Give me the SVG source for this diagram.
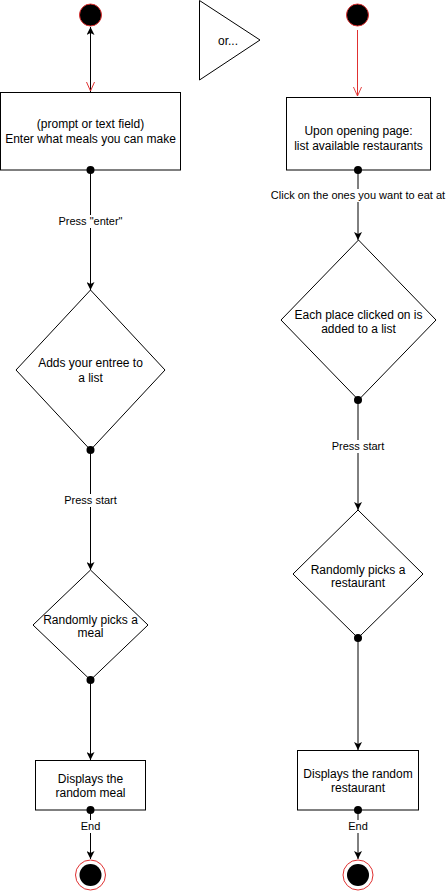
<svg xmlns="http://www.w3.org/2000/svg" width="446" height="891" viewBox="0 0 446 891">
<style>
.node{fill:#fff;stroke:#000;stroke-width:1}
.t{font-family:"Liberation Sans",Arial,sans-serif;font-size:12px;fill:#000;text-anchor:middle}
.lbl{font-family:"Liberation Sans",Arial,sans-serif;font-size:11px;fill:#000;text-anchor:middle}
.edge{stroke:#000;stroke-width:1;fill:none}
.red{stroke:#e03030;stroke-width:1;fill:none}
.start{fill:#000;stroke:#e03030;stroke-width:1}
.ring{fill:#fff;stroke:#e03030;stroke-width:1}
.dot{fill:#000}
</style>
<defs>
<marker id="blk" viewBox="0 0 10 10" refX="10" refY="5" markerWidth="8" markerHeight="8" markerUnits="userSpaceOnUse" orient="auto">
<path d="M0,0 L10,5 L0,10 L2.5,5 Z" fill="#000"/>
</marker>
<marker id="open" viewBox="0 0 10 10" refX="10" refY="5" markerWidth="10" markerHeight="9" markerUnits="userSpaceOnUse" orient="auto">
<path d="M0,0.5 L10,5 L0,9.5" fill="none" stroke="#e03030" stroke-width="1"/>
</marker>
</defs>
<g id="start-left"><circle class="start" cx="90.5" cy="15" r="11"/></g>
<g id="start-right"><circle class="start" cx="357.5" cy="15" r="11"/></g>
<g id="or-triangle">
<polygon class="node" points="199.5,0.5 199.5,80 260,40"/>
<text class="t" x="228" y="45">or...</text>
</g>
<g id="enter-meals">
<rect class="node" x="0.5" y="92.5" width="180" height="77.5"/>
<text class="t" x="90.5" y="128">(prompt or text field)</text>
<text class="t" x="90.5" y="143">Enter what meals you can make</text>
</g>
<g id="list-restaurants">
<rect class="node" x="286.5" y="97.5" width="144" height="72.5"/>
<text class="t" x="358.5" y="135">Upon opening page:</text>
<text class="t" x="358.5" y="150">list available restaurants</text>
</g>
<g id="adds-entree">
<polygon class="node" points="90.5,290 165,370 90.5,450 16,370"/>
<text class="t" x="90.5" y="367">Adds your entree to</text>
<text class="t" x="90.5" y="382">a list</text>
</g>
<g id="each-place">
<polygon class="node" points="358.5,240 436,320 358.5,400 281,320"/>
<text class="t" x="358.5" y="319">Each place clicked on is</text>
<text class="t" x="358.5" y="333">added to a list</text>
</g>
<g id="picks-meal">
<polygon class="node" points="90.5,570 148,625 90.5,680 33,625"/>
<text class="t" x="90.5" y="624">Randomly picks a</text>
<text class="t" x="90.5" y="637">meal</text>
</g>
<g id="picks-restaurant">
<polygon class="node" points="358,510 423,574 358,638 293,574"/>
<text class="t" x="358" y="574">Randomly picks a</text>
<text class="t" x="358" y="587">restaurant</text>
</g>
<g id="display-meal">
<rect class="node" x="35.5" y="760.5" width="110" height="49.5"/>
<text class="t" x="90.5" y="783">Displays the</text>
<text class="t" x="90.5" y="797">random meal</text>
</g>
<g id="display-restaurant">
<rect class="node" x="297.5" y="750.5" width="121" height="59.5"/>
<text class="t" x="358" y="778">Displays the random</text>
<text class="t" x="358" y="792">restaurant</text>
</g>
<g id="end-left"><circle class="ring" cx="90.5" cy="875" r="15"/><circle class="dot" cx="90.5" cy="875" r="11"/></g>
<g id="end-right"><circle class="ring" cx="358" cy="875" r="15"/><circle class="dot" cx="358" cy="875" r="11"/></g>
<g id="connectors">
<line class="edge" x1="90.5" y1="92" x2="90.5" y2="27" marker-end="url(#blk)"/>
<path class="red" d="M86.5,82 L90.5,91 L94.5,82"/>
<line class="red" x1="357.5" y1="30" x2="357.5" y2="96" marker-end="url(#open)"/>
<line class="edge" x1="90.5" y1="170" x2="90.5" y2="290" marker-end="url(#blk)"/>
<line class="edge" x1="90.5" y1="450" x2="90.5" y2="570" marker-end="url(#blk)"/>
<line class="edge" x1="90.5" y1="680" x2="90.5" y2="760" marker-end="url(#blk)"/>
<line class="edge" x1="90.5" y1="810" x2="90.5" y2="859" marker-end="url(#blk)"/>
<line class="edge" x1="358" y1="170" x2="358" y2="240" marker-end="url(#blk)"/>
<line class="edge" x1="358" y1="400" x2="358" y2="510" marker-end="url(#blk)"/>
<line class="edge" x1="358" y1="638" x2="358" y2="750" marker-end="url(#blk)"/>
<line class="edge" x1="358" y1="810" x2="358" y2="859" marker-end="url(#blk)"/>
<circle class="dot" cx="90.5" cy="170" r="4"/>
<circle class="dot" cx="90.5" cy="450" r="4"/>
<circle class="dot" cx="90.5" cy="680" r="4"/>
<circle class="dot" cx="90.5" cy="810" r="4"/>
<circle class="dot" cx="358" cy="170" r="4"/>
<circle class="dot" cx="358" cy="400" r="4"/>
<circle class="dot" cx="358" cy="638" r="4"/>
<circle class="dot" cx="358" cy="810" r="4"/>
<rect x="56" y="215" width="70" height="13" fill="#fff"/>
<text class="lbl" x="90.5" y="225">Press "enter"</text>
<rect x="270" y="189" width="176" height="13" fill="#fff"/>
<text class="lbl" x="358" y="199">Click on the ones you want to eat at</text>
<rect x="60" y="494" width="60" height="13" fill="#fff"/>
<text class="lbl" x="90.5" y="504">Press start</text>
<rect x="328" y="440" width="60" height="13" fill="#fff"/>
<text class="lbl" x="358" y="450">Press start</text>
<rect x="78" y="820" width="25" height="13" fill="#fff"/>
<text class="lbl" x="90.5" y="830">End</text>
<rect x="345" y="820" width="25" height="13" fill="#fff"/>
<text class="lbl" x="358" y="830">End</text>
</g>
</svg>
